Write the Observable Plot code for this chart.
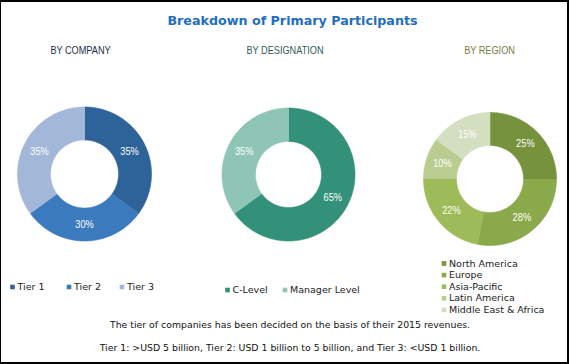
<!DOCTYPE html>
<html>
<head>
<meta charset="utf-8">
<script src="https://cdn.jsdelivr.net/npm/d3@7"></script>
<script src="https://cdn.jsdelivr.net/npm/@observablehq/plot@0.6"></script>
<style>
html, body { margin: 0; padding: 0; background: #fff; }
#frame { position: relative; width: 569px; height: 364px; overflow: hidden; background: #fff; }
#border { position: absolute; left: 0; top: 0; width: 569px; height: 364px; box-sizing: border-box;
  border: 2px solid #000; border-left-width: 1px; pointer-events: none; }
#title { height: 36px; box-sizing: border-box; padding-top: 13px; width: 585px; text-align: center;
  font: bold 12.7px "DejaVu Sans", Verdana, sans-serif; line-height: 15px; color: #1f6ebf; white-space: nowrap; }
#chart svg { display: block; }
#caption { box-sizing: border-box; width: 569px; padding-left: 11px; padding-top: 3px; text-align: center;
  font: 9.35px "DejaVu Sans", Verdana, sans-serif; line-height: 12px; color: #111; white-space: nowrap; }
#caption div + div { margin-top: 11px; }
</style>
</head>
<body>
<div id="frame">
  <div id="title">Breakdown of Primary Participants</div>
  <div id="chart"></div>
  <div id="caption"></div>
  <div id="border"></div>
</div>
<script>
// ---- data ----
const panelTitles = ["BY COMPANY", "BY DESIGNATION", "BY REGION"];
const companyCategories = ["Tier 1", "Tier 2", "Tier 3"];
const companyValues = [35, 30, 35];
const designationCategories = ["C-Level", "Manager Level"];
const designationValues = [65, 35];
const regionCategories = ["North America", "Europe", "Asia-Pacific", "Latin America", "Middle East & Africa"];
const regionValues = [25, 28, 22, 10, 15];
const captionLines = [
  "The tier of companies has been decided on the basis of their 2015 revenues.",
  "Tier 1: >USD 5 billion, Tier 2: USD 1 billion to 5 billion, and Tier 3: <USD 1 billion."
];

// ---- styles / layout ----
const companyColors = ["#2d6399", "#3a7abd", "#a3b8d9"];
const designationColors = ["#339179", "#8fc5b4"];
const regionColors = ["#76923c", "#8aa94a", "#9dbb58", "#b9cd91", "#d4dec0"];
const titleColors = ["#1d2f47", "#2e5c59", "#7b7b42"];
const panels = [
  {cats: companyCategories, vals: companyValues, colors: companyColors, cx: 84, cy: 173.5, ro: 67, ri: 34, tx: 80, legend: "row", ly: 286.5, lx: [12, 68.5, 121.5]},
  {cats: designationCategories, vals: designationValues, colors: designationColors, cx: 288, cy: 174, ro: 66.5, ri: 33, tx: 284.5, legend: "row", ly: 289.5, lx: [227, 284.5]},
  {cats: regionCategories, vals: regionValues, colors: regionColors, cx: 489.5, cy: 178.5, ro: 66.5, ri: 33.5, tx: 489, legend: "col", lx0: 443.5, ly0: 263, dy: 11.6}
];
const TOP = 36, H = 280;

const polys = [], labels = [], legendItems = [], titles = [];
panels.forEach((p, pi) => {
  const total = d3.sum(p.vals);
  let cum = 0;
  titles.push({x: p.tx, y: 49.3, text: panelTitles[pi], color: titleColors[pi]});
  p.vals.forEach((v, i) => {
    const a0 = cum / total * 2 * Math.PI, a1 = (cum + v) / total * 2 * Math.PI;
    cum += v;
    const n = Math.max(2, Math.ceil((a1 - a0) / (Math.PI / 180)));
    const id = pi + "-" + i;
    for (let k = 0; k <= n; k++) {
      const t = a0 + (a1 - a0) * k / n;
      polys.push({id, color: p.colors[i], x: p.cx + p.ro * Math.sin(t), y: p.cy - p.ro * Math.cos(t)});
    }
    for (let k = n; k >= 0; k--) {
      const t = a0 + (a1 - a0) * k / n;
      polys.push({id, color: p.colors[i], x: p.cx + p.ri * Math.sin(t), y: p.cy - p.ri * Math.cos(t)});
    }
    const am = (a0 + a1) / 2, rm = (p.ro + p.ri) / 2;
    labels.push({x: p.cx + rm * Math.sin(am), y: p.cy - rm * Math.cos(am), text: v + "%"});
    const lx = p.legend === "row" ? p.lx[i] : p.lx0;
    const ly = p.legend === "row" ? p.ly : p.ly0 + i * p.dy;
    legendItems.push({x: lx, y: ly, color: p.colors[i], text: p.cats[i]});
  });
});

const chart = Plot.plot({
  width: 569, height: H, margin: 0,
  x: {domain: [0, 569], range: [0, 569], axis: null},
  y: {domain: [TOP, TOP + H], range: [0, H], axis: null},
  color: {type: "identity"},
  marks: [
    Plot.line(polys, {x: "x", y: "y", z: "id", fill: "color", stroke: "color", strokeWidth: 0.6, curve: "linear"}),
    Plot.text(labels, {x: "x", y: "y", text: "text", fill: "white", fontSize: 11, ariaDescription: "slice-label",
      fontFamily: "Liberation Sans, Arial, sans-serif"}),
    Plot.text(titles, {x: "x", y: "y", text: "text", fill: "color", fontSize: 11.6, ariaDescription: "panel-title",
      fontFamily: "Liberation Sans, Arial, sans-serif"}),
    Plot.dot(legendItems, {x: "x", y: "y", symbol: "square", r: 2.6, fill: "color", stroke: null}),
    Plot.text(legendItems, {x: d => d.x + 5, y: "y", text: "text", textAnchor: "start", fill: "#222", fontSize: 9.5,
      fontFamily: "DejaVu Sans, Verdana, sans-serif"})
  ]
});
document.getElementById("chart").appendChild(chart);

// condense text (the reference uses a narrow face)
function condense(desc, factor) {
  chart.querySelectorAll('g[aria-description="' + desc + '"] text').forEach(t => {
    const w = t.getComputedTextLength();
    t.setAttribute("textLength", (w * factor).toFixed(2));
    t.setAttribute("lengthAdjust", "spacingAndGlyphs");
  });
}
condense("panel-title", 0.79);
condense("slice-label", 0.84);

const cap = document.getElementById("caption");
captionLines.forEach(t => { const d = document.createElement("div"); d.textContent = t; cap.appendChild(d); });
</script>
</body>
</html>
